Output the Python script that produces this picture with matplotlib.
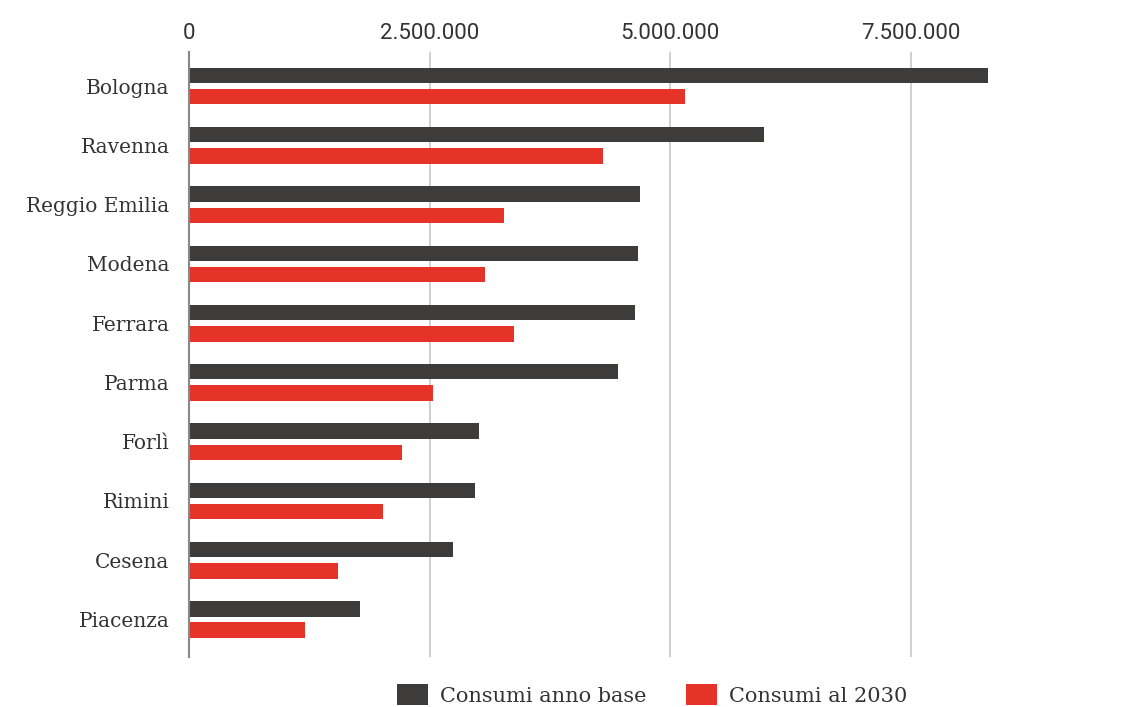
import matplotlib
matplotlib.use("Agg")
import matplotlib.pyplot as plt
from matplotlib.ticker import FuncFormatter
import numpy as np

# consumi per provincia (valori assoluti)
province = ["Bologna", "Ravenna", "Reggio Emilia", "Modena", "Ferrara",
            "Parma", "Forlì", "Rimini", "Cesena", "Piacenza"]
consumi_base = [8300000, 5970000, 4690000, 4670000, 4630000,
                4460000, 3010000, 2970000, 2740000, 1780000]
consumi_2030 = [5150000, 4300000, 3270000, 3080000, 3380000,
                2540000, 2210000, 2020000, 1550000, 1210000]
serie = ["Consumi anno base", "Consumi al 2030"]
tick_vals = [0, 2500000, 5000000, 7500000]

DARK = "#3d3c3a"
RED = "#e5332a"
SERIF = ["DejaVu Serif"]
SANS = ["Roboto", "DejaVu Sans"]

fig = plt.figure(figsize=(11.22, 7.07), dpi=100)
ax = fig.add_axes([0.1684, 0.071, 0.772, 0.855])

y = np.arange(len(province))
h = 0.26
ax.barh(y - 0.18, consumi_base, height=h, color=DARK, label=serie[0], zorder=3)
ax.barh(y + 0.18, consumi_2030, height=h, color=RED, label=serie[1], zorder=3)

ax.set_xlim(0, 9000000)
ax.set_ylim(len(province) - 1 + 0.63, -0.57)

ax.set_xticks(tick_vals)
ax.xaxis.set_major_formatter(FuncFormatter(lambda v, p: f"{int(v):,}".replace(",", ".")))
ax.xaxis.tick_top()
ax.tick_params(axis="x", length=0, pad=6, labelsize=16, labelcolor="#333333")
for t in ax.get_xticklabels():
    t.set_family(SANS)

ax.set_yticks(y)
ax.set_yticklabels(province, family=SERIF, fontsize=14.5, color="#333333")
ax.tick_params(axis="y", length=0, pad=14)

ax.grid(axis="x", color="#cccccc", linewidth=1.3, zorder=0)
for s in ["top", "right", "bottom"]:
    ax.spines[s].set_visible(False)
ax.spines["left"].set_color("#888888")
ax.spines["left"].set_linewidth(1.5)
ax.spines["left"].set_zorder(4)

leg = fig.legend(loc="center left", bbox_to_anchor=(397 / 1122, 1 - 695 / 707),
                 ncol=2, frameon=False, borderpad=0, borderaxespad=0,
                 handlelength=1.5, handleheight=1.15, handletextpad=0.55,
                 columnspacing=1.9, prop={"family": SERIF, "size": 15})
for t in leg.get_texts():
    t.set_color("#333333")

fig.savefig("out.png", dpi=100)
